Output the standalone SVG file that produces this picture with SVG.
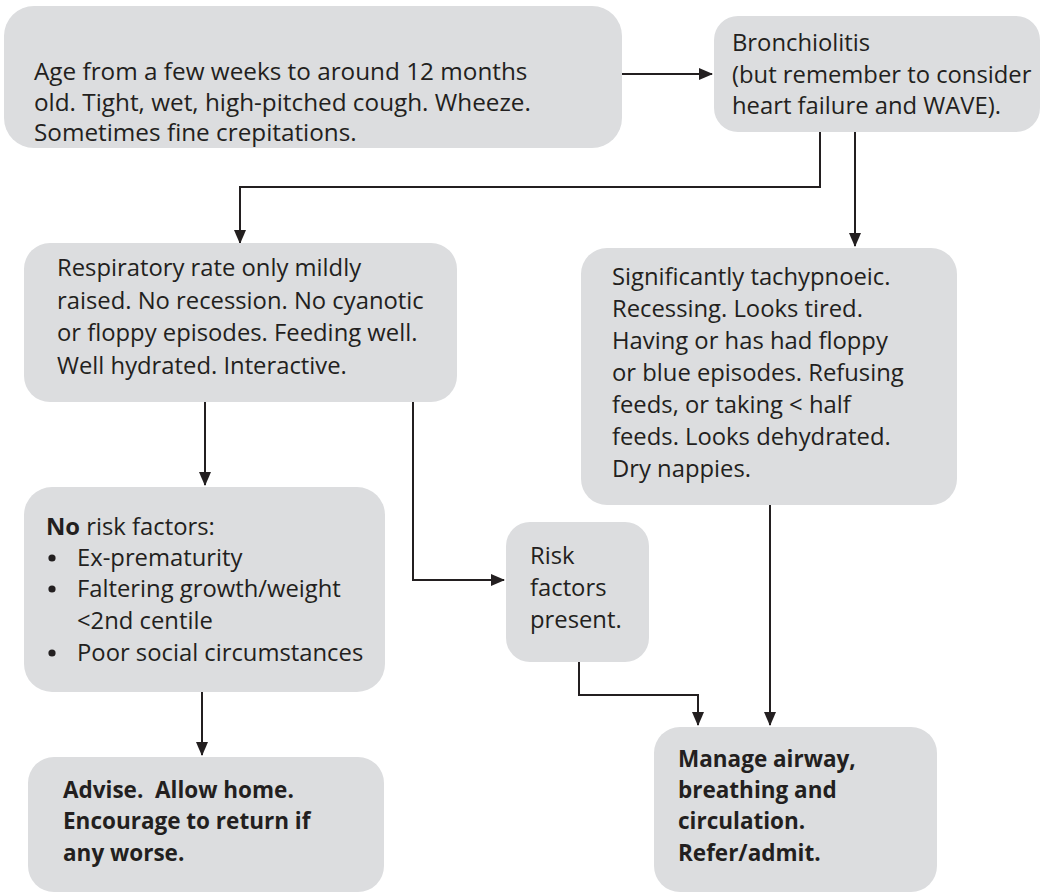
<svg xmlns="http://www.w3.org/2000/svg" width="1047" height="894" viewBox="0 0 1047 894">
  <defs>
    <marker id="arrow" markerUnits="userSpaceOnUse" markerWidth="14" markerHeight="12" refX="13" refY="6" orient="auto">
      <path d="M0,0 L14,6 L0,12 Z" fill="#231f20"/>
    </marker>
    <style>
      .box { fill: #dcdddf; }
      .t { font-family: "Open Sans", "Noto Sans", sans-serif; font-size: 23.8px; fill: #231f20; }
      .b { font-weight: bold; font-size: 22.5px; }
      .dot { fill: #231f20; }
      .link { fill: none; stroke: #231f20; stroke-width: 2; marker-end: url(#arrow); }
    </style>
  </defs>
  <rect width="1047" height="894" fill="#ffffff"/>

  <!-- flow connectors -->
  <g id="connectors">
    <path class="link" d="M622,74 H712"/>
    <path class="link" d="M820,132 V187 H240 V243"/>
    <path class="link" d="M855,132 V246"/>
    <path class="link" d="M205,402 V485"/>
    <path class="link" d="M413,402 V580 H504"/>
    <path class="link" d="M202,692 V755"/>
    <path class="link" d="M579,662 V695 H698 V725"/>
    <path class="link" d="M770,505 V725"/>
  </g>

  <g id="presentation">
    <rect class="box" x="4" y="6" width="618" height="142" rx="30"/>
    <text class="t" x="34" y="80" style="font-size:24.3px">Age from a few weeks to around 12 months</text>
    <text class="t" x="34" y="111" style="font-size:24.3px">old. Tight, wet, high-pitched cough. Wheeze.</text>
    <text class="t" x="34" y="141" style="font-size:24.3px">Sometimes fine crepitations.</text>
  </g>

  <g id="bronchiolitis">
    <rect class="box" x="714" y="16" width="326" height="116" rx="24"/>
    <text class="t" x="732" y="51">Bronchiolitis</text>
    <text class="t" x="732" y="83">(but remember to consider</text>
    <text class="t" x="732" y="114">heart failure and WAVE).</text>
  </g>

  <g id="mild">
    <rect class="box" x="24" y="243" width="433" height="159" rx="26"/>
    <text class="t" x="57" y="276">Respiratory rate only mildly</text>
    <text class="t" x="57" y="309">raised. No recession. No cyanotic</text>
    <text class="t" x="57" y="341">or floppy episodes. Feeding well.</text>
    <text class="t" x="57" y="374">Well hydrated. Interactive.</text>
  </g>

  <g id="severe">
    <rect class="box" x="581" y="248" width="376" height="257" rx="26"/>
    <text class="t" x="612" y="285">Significantly tachypnoeic.</text>
    <text class="t" x="612" y="317">Recessing. Looks tired.</text>
    <text class="t" x="612" y="349">Having or has had floppy</text>
    <text class="t" x="612" y="381">or blue episodes. Refusing</text>
    <text class="t" x="612" y="413">feeds, or taking &lt; half</text>
    <text class="t" x="612" y="445">feeds. Looks dehydrated.</text>
    <text class="t" x="612" y="477">Dry nappies.</text>
  </g>

  <g id="no-risk">
    <rect class="box" x="24" y="487" width="361" height="205" rx="28"/>
    <text class="t" x="46" y="535"><tspan class="b" style="font-size:23.8px">No</tspan> risk factors:</text>
    <circle class="dot" cx="52" cy="558" r="3.6"/>
    <text class="t" x="77" y="566">Ex-prematurity</text>
    <circle class="dot" cx="52" cy="589" r="3.6"/>
    <text class="t" x="77" y="597">Faltering growth/weight</text>
    <text class="t" x="77" y="629">&lt;2nd centile</text>
    <circle class="dot" cx="52" cy="653" r="3.6"/>
    <text class="t" x="77" y="661">Poor social circumstances</text>
  </g>

  <g id="risk">
    <rect class="box" x="506" y="522" width="143" height="140" rx="24"/>
    <text class="t" x="530" y="564">Risk</text>
    <text class="t" x="530" y="596">factors</text>
    <text class="t" x="530" y="628">present.</text>
  </g>

  <g id="home">
    <rect class="box" x="28" y="757" width="356" height="135" rx="26"/>
    <text class="t b" x="63" y="798" xml:space="preserve">Advise.  Allow home.</text>
    <text class="t b" x="63" y="829">Encourage to return if</text>
    <text class="t b" x="63" y="861">any worse.</text>
  </g>

  <g id="admit">
    <rect class="box" x="654" y="727" width="283" height="165" rx="26"/>
    <text class="t b" x="678" y="767">Manage airway,</text>
    <text class="t b" x="678" y="798">breathing and</text>
    <text class="t b" x="678" y="829">circulation.</text>
    <text class="t b" x="678" y="861">Refer/admit.</text>
  </g>
</svg>
